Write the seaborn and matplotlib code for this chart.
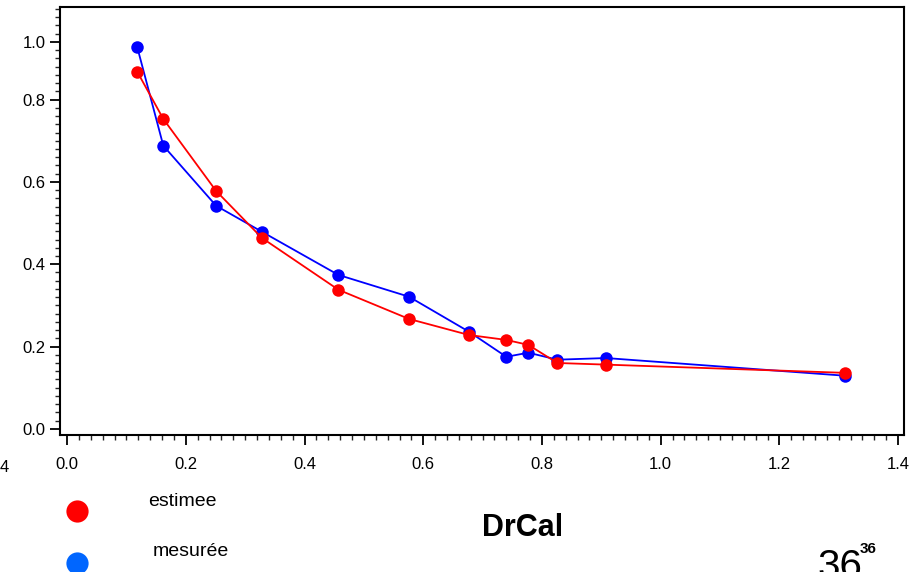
import pandas as pd
import matplotlib.pyplot as plt
import seaborn as sns
from matplotlib.lines import Line2D
from matplotlib.ticker import MultipleLocator

# Valeurs
drcal = [0.118, 0.162, 0.251, 0.328, 0.457, 0.576, 0.677, 0.740, 0.777, 0.826, 0.908, 1.311]
mesuree = [0.928, 0.688, 0.542, 0.479, 0.374, 0.321, 0.236, 0.175, 0.185, 0.168, 0.172, 0.129]
estimee = [0.868, 0.753, 0.578, 0.464, 0.338, 0.267, 0.228, 0.216, 0.204, 0.160, 0.156, 0.136]

xticks = [0.0, 0.2, 0.4, 0.6, 0.8, 1.0, 1.2, 1.4]
yticks = [0.0, 0.2, 0.4, 0.6, 0.8, 0.94]
ylabels = ['0.0', '0.2', '0.4', '0.6', '0.8', '1.0']

data = pd.DataFrame({
    'DrCal': drcal * 2,
    'valeur': mesuree + estimee,
    'serie': ['mesurée'] * len(drcal) + ['estimee'] * len(drcal),
})

sns.set_style('ticks')
plt.rcParams['font.family'] = ['Liberation Sans', 'DejaVu Sans']
plt.rcParams['text.color'] = 'black'

fig = plt.figure(figsize=(9.15, 5.72), dpi=100)
ax = fig.add_axes([0.0656, 0.2395, 0.9224, 0.7483])

for serie, couleur in [('mesurée', '#0000ff'), ('estimee', '#ff0000')]:
    sns.lineplot(data=data[data['serie'] == serie], x='DrCal', y='valeur',
                 color=couleur, marker='o', markersize=9, markeredgewidth=0,
                 linewidth=1.3, ax=ax, legend=False)

ax.set_xlim(-0.012, 1.41)
ax.set_ylim(-0.015, 1.025)
ax.set_xticks(xticks)
ax.set_xticklabels([f'{t:.1f}' for t in xticks])
ax.set_yticks(yticks)
ax.set_yticklabels(ylabels)
ax.xaxis.set_minor_locator(MultipleLocator(0.02))
ax.yaxis.set_minor_locator(MultipleLocator(0.02))
ax.tick_params(which='major', direction='out', length=7, width=1.3, labelsize=12,
               colors='black')
ax.tick_params(which='minor', direction='out', length=3.5, width=1.0)
ax.tick_params(axis='x', pad=9)
ax.set_xlabel('')
ax.set_ylabel('')
for s in ax.spines.values():
    s.set_linewidth(1.5)
    s.set_color('black')

# Légende dessinée à la main
fig.add_artist(Line2D([77 / 915], [1 - 511 / 572], marker='o', markersize=16,
                      color='#ff0000', markeredgewidth=0, transform=fig.transFigure))
fig.add_artist(Line2D([77 / 915], [1 - 563 / 572], marker='o', markersize=16,
                      color='#0066ff', markeredgewidth=0, transform=fig.transFigure))
fig.text(148 / 915, 1 - 501 / 572, 'estimee', fontsize=14, va='center')
fig.text(153 / 915, 1 - 552 / 572, 'mesurée', fontsize=14, va='center')
fig.text(523 / 915, 1 - 528 / 572, 'DrCal', fontsize=22, fontweight='bold',
         ha='center', va='center')
fig.text(817 / 915, 1 - 578 / 572, '36', fontsize=29, va='baseline')
fig.text(860 / 915, 1 - 553 / 572, '36', fontsize=11, fontweight='bold', va='baseline')
fig.text(0.0, 1 - 467 / 572, '4', fontsize=12, va='center')

fig.savefig('out.png', dpi=100)
